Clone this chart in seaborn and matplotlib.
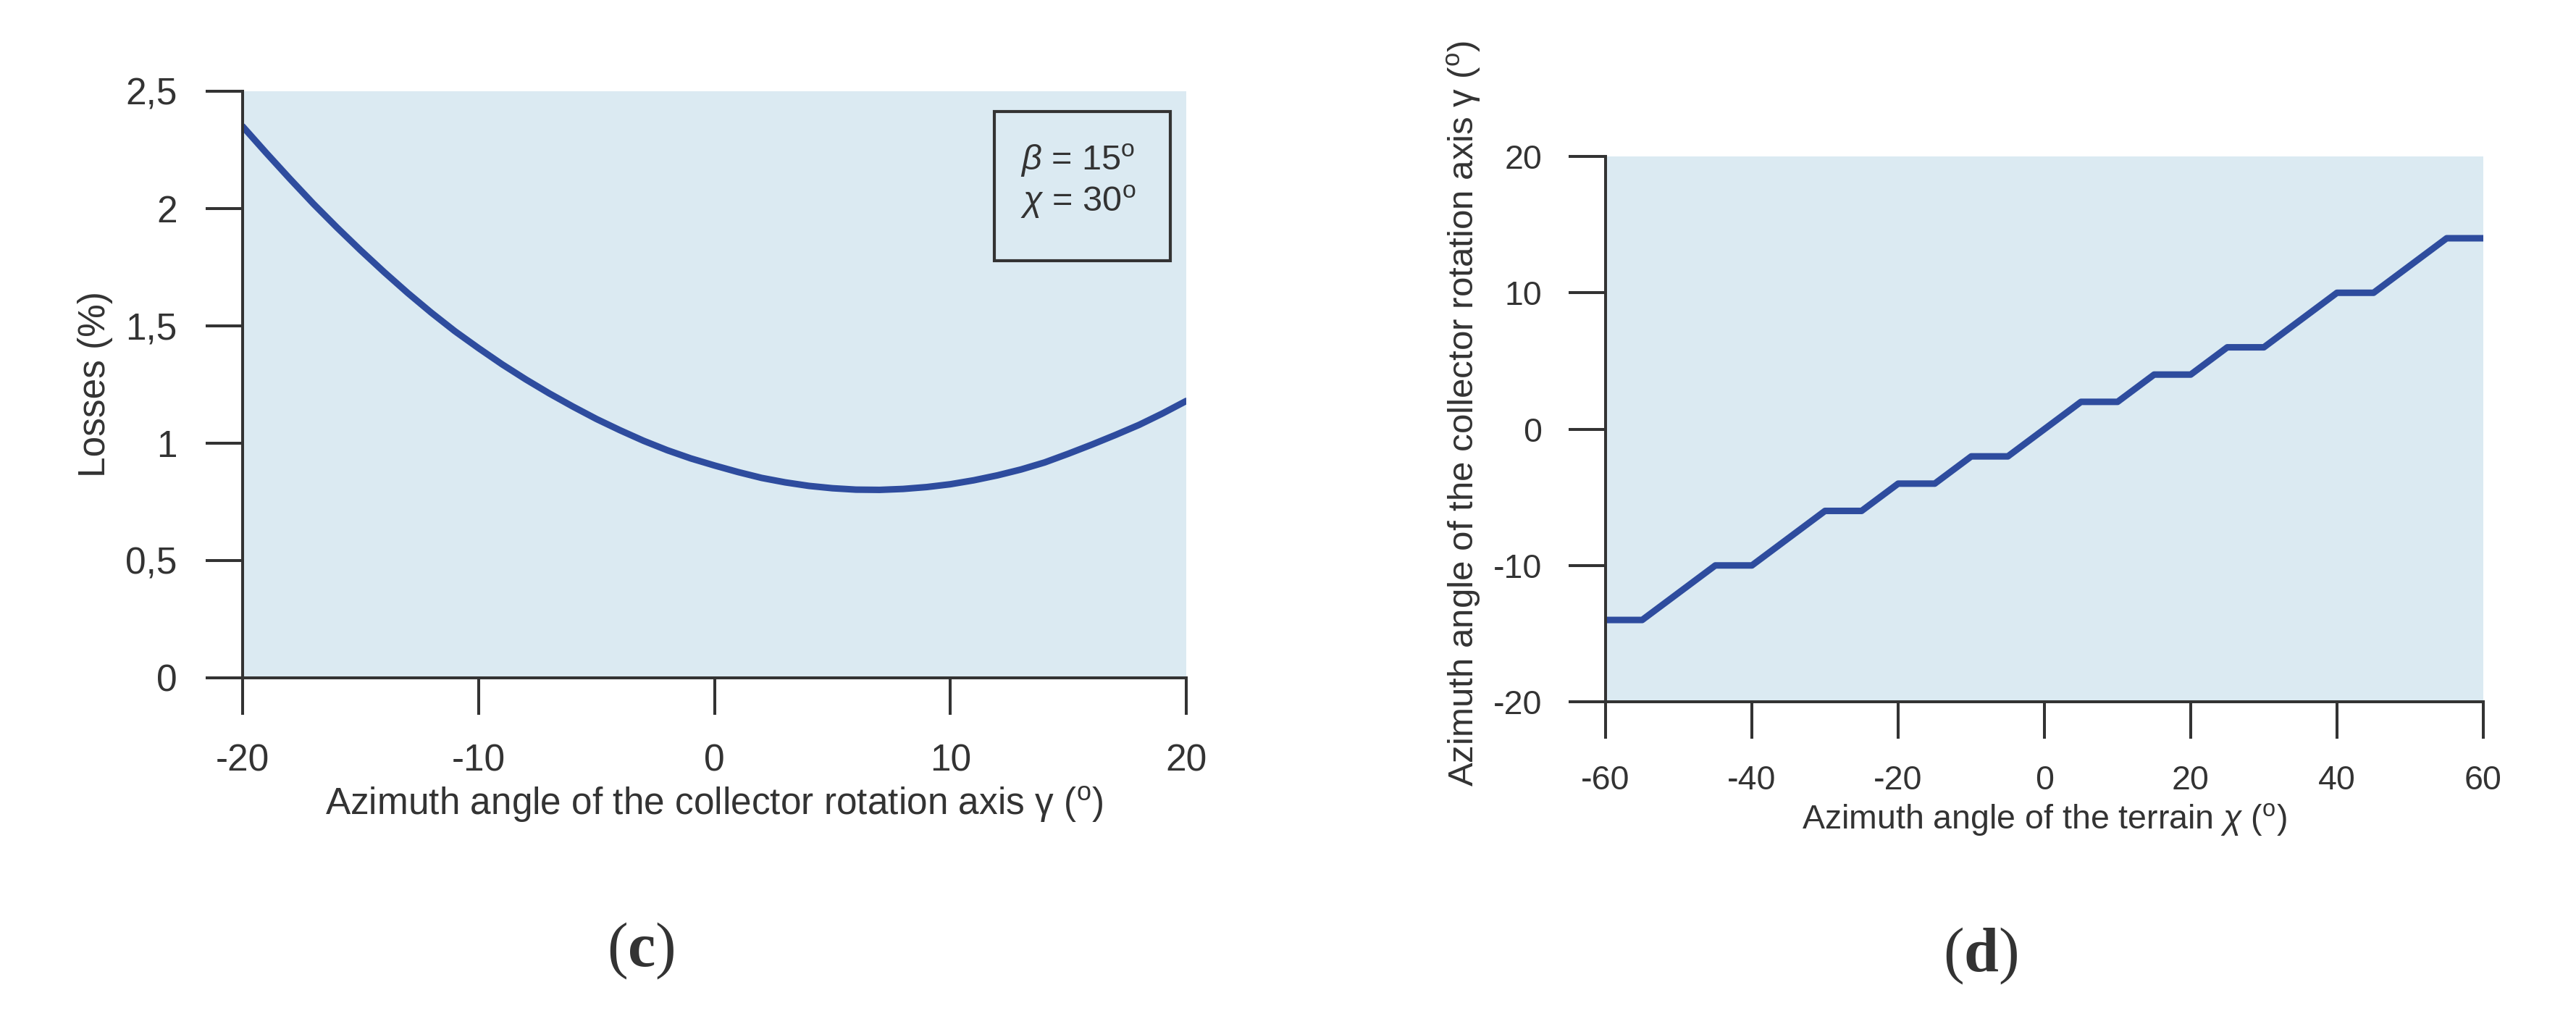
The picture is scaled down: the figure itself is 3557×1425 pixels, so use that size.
import numpy as np
import pandas as pd
import matplotlib
matplotlib.use("Agg")
import matplotlib.pyplot as plt
from matplotlib.patches import Rectangle
import seaborn as sns

# panel (c): losses vs azimuth of the rotation axis
gamma = list(range(-20, 21))
losses = [2.35, 2.237, 2.127, 2.02, 1.919, 1.822, 1.729, 1.64, 1.556, 1.477,
          1.405, 1.336, 1.272, 1.212, 1.156, 1.103, 1.055, 1.01, 0.97, 0.935,
          0.905, 0.877, 0.852, 0.833, 0.818, 0.808, 0.802, 0.801, 0.805, 0.813,
          0.825, 0.842, 0.863, 0.888, 0.918, 0.955, 0.994, 1.035, 1.078, 1.127, 1.18]
c_xticks = [-20, -10, 0, 10, 20]
c_yticks = [0, 0.5, 1, 1.5, 2, 2.5]
c_yticklabels = ["0", "0,5", "1", "1,5", "2", "2,5"]

# panel (d): optimal rotation axis azimuth vs terrain azimuth
chi = [-60, -55, -45, -40, -30, -25, -20, -15, -10, -5, 5, 10, 15, 20, 25, 30, 40, 45, 55, 60]
gamma_opt = [-14, -14, -10, -10, -6, -6, -4, -4, -2, -2, 2, 2, 4, 4, 6, 6, 10, 10, 14, 14]
d_xticks = [-60, -40, -20, 0, 20, 40, 60]
d_yticks = [-20, -10, 0, 10, 20]

sns.set_style("ticks")
plt.rcParams["font.family"] = ["Liberation Sans", "DejaVu Sans"]
plt.rcParams["mathtext.fontset"] = "custom"
plt.rcParams["mathtext.rm"] = "Liberation Sans"
plt.rcParams["mathtext.it"] = "Liberation Sans:italic"
plt.rcParams["mathtext.bf"] = "Liberation Serif:bold"
plt.rcParams["axes.unicode_minus"] = False

BG = "#DBEAF2"
LINE = "#2E4C9E"
INK = "#333333"
DEG = r"$^{\mathrm{o}}$"

fig = plt.figure(figsize=(35.57, 14.25), dpi=100)
ax1 = fig.add_axes([0.0942, 0.3432, 0.3663, 0.5684])
ax2 = fig.add_axes([0.6233, 0.3200, 0.3407, 0.5284])


def style_axes(ax, size, pad):
    ax.set_facecolor(BG)
    sns.despine(ax=ax)
    for s in ["left", "bottom"]:
        ax.spines[s].set_color(INK)
        ax.spines[s].set_linewidth(2.9)
    ax.tick_params(direction="out", length=37, width=2.9, color=INK,
                   labelsize=size, labelcolor=INK, pad=pad)


df_c = pd.DataFrame({"gamma": gamma, "losses": losses})
sns.lineplot(data=df_c, x="gamma", y="losses", ax=ax1, color=LINE, linewidth=6.5)
style_axes(ax1, 37, 28)
ax1.set_xlim(-20, 20)
ax1.set_ylim(0, 2.5)
ax1.set_xticks(c_xticks)
ax1.set_xticklabels([str(v) for v in c_xticks])
ax1.set_yticks(c_yticks)
ax1.set_yticklabels(c_yticklabels)
ax1.set_xlabel("Azimuth angle of the collector rotation axis γ (" + DEG + ")",
               fontsize=37, color=INK, va="baseline")
ax1.xaxis.set_label_coords(0.5, -0.2333)
ax1.set_ylabel("Losses (%)", fontsize=37, color=INK, va="center")
ax1.yaxis.set_label_coords(-0.1566, 0.5)

ax1.add_patch(Rectangle((0.7966, 0.7111), 0.1865, 0.2543, transform=ax1.transAxes,
                        facecolor="none", edgecolor=INK, linewidth=3, zorder=5))
ax1.text(0.8242, 0.8654, r"$\beta$ = 15" + DEG, transform=ax1.transAxes,
         fontsize=35, color=INK, va="baseline", ha="left")
ax1.text(0.8242, 0.7950, r"$\chi$ = 30" + DEG, transform=ax1.transAxes,
         fontsize=35, color=INK, va="baseline", ha="left")

df_d = pd.DataFrame({"chi": chi, "gamma": gamma_opt})
sns.lineplot(data=df_d, x="chi", y="gamma", ax=ax2, color=LINE, linewidth=6.5)
style_axes(ax2, 33.5, 26)
ax2.set_xlim(-60, 60)
ax2.set_ylim(-20, 20)
ax2.set_xticks(d_xticks)
ax2.set_xticklabels([str(v) for v in d_xticks])
ax2.set_yticks(d_yticks)
ax2.set_yticklabels([str(v) for v in d_yticks])
ax2.set_xlabel(r"Azimuth angle of the terrain $\chi$ (" + DEG + ")",
               fontsize=33.5, color=INK, va="baseline")
ax2.xaxis.set_label_coords(0.5, -0.2337)
ax2.set_ylabel("Azimuth angle of the collector rotation axis γ (" + DEG + ")",
               fontsize=35.5, color=INK, va="center")
ax2.yaxis.set_label_coords(-0.1609, 0.5285)

fig.text(885 / 3557, 1 - 1313 / 1425, r"($\mathbf{c}$)", fontfamily="Liberation Serif",
         fontsize=62, color=INK, ha="center", va="center")
fig.text(2735 / 3557, 1 - 1320 / 1425, r"($\mathbf{d}$)", fontfamily="Liberation Serif",
         fontsize=62, color=INK, ha="center", va="center")

fig.savefig("out.png", dpi=100, facecolor="white")
